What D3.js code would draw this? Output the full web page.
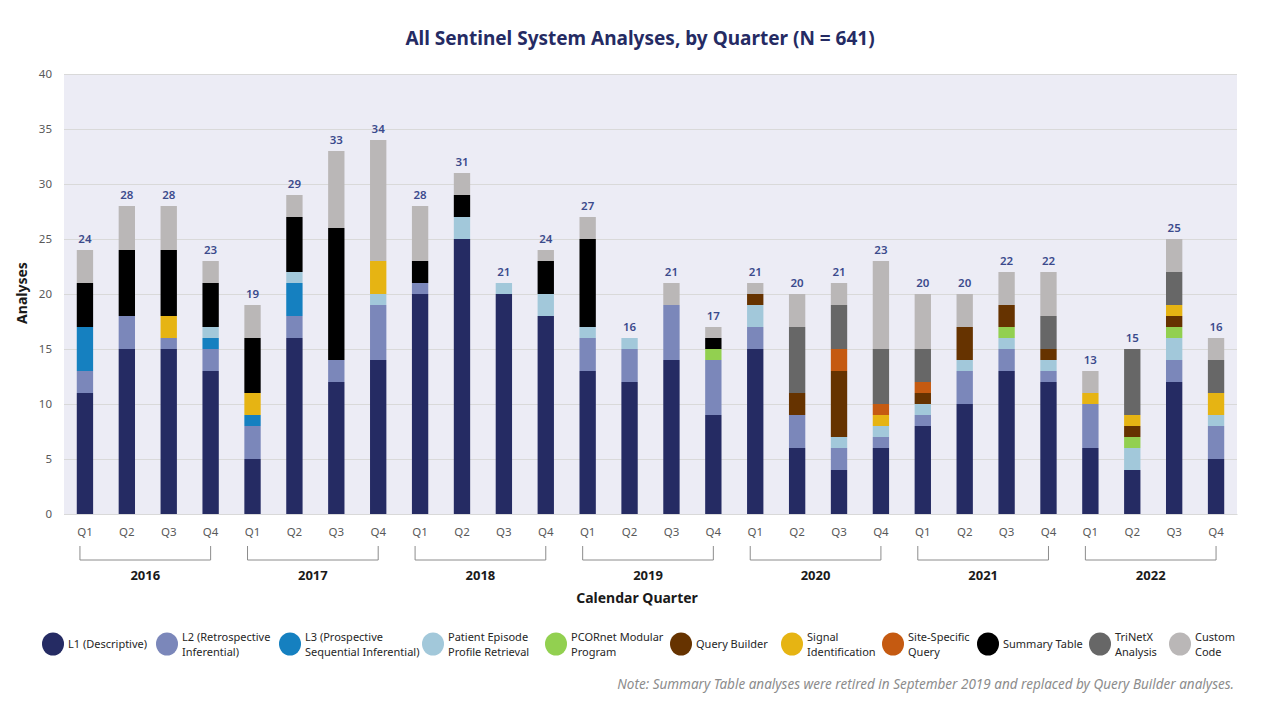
<!DOCTYPE html>
<html>
<head>
<meta charset="utf-8">
<script src="https://cdn.jsdelivr.net/npm/d3@7"></script>
<style>
  body { margin: 0; background: #fff; }
  svg text { font-family: "Noto Sans", "Open Sans", sans-serif; }
</style>
</head>
<body>
<div id="chart"></div>
<script>
// data
let years = ["2016", "2017", "2018", "2019", "2020", "2021", "2022"];
let quarters = ["Q1", "Q2", "Q3", "Q4"];

let seriesNames = ["L1 (Descriptive)", "L2 (Retrospective Inferential)", "L3 (Prospective Sequential Inferential)",
  "Patient Episode Profile Retrieval", "PCORnet Modular Program", "Query Builder", "Signal Identification",
  "Site-Specific Query", "Summary Table", "TriNetX Analysis", "Custom Code"];
let legendLines = [["L1 (Descriptive)"], ["L2 (Retrospective", "Inferential)"], ["L3 (Prospective", "Sequential Inferential)"],
  ["Patient Episode", "Profile Retrieval"], ["PCORnet Modular", "Program"], ["Query Builder"], ["Signal", "Identification"],
  ["Site-Specific", "Query"], ["Summary Table"], ["TriNetX", "Analysis"], ["Custom", "Code"]];
let colors = ["#252b63", "#7b87ba", "#1580c0", "#a2c8da", "#92d050", "#663300", "#e6b413", "#c55a11", "#000000", "#676767", "#bab7b7"];

// one value per quarter, 2016 Q1 .. 2022 Q4
let l1 =      [11,15,15,13, 5,16,12,14, 20,25,20,18, 13,12,14, 9, 15, 6, 4, 6,  8,10,13,12,  6, 4,12, 5];
let l2 =      [ 2, 3, 1, 2, 3, 2, 2, 5,  1, 0, 0, 0,  3, 3, 5, 5,  2, 3, 2, 1,  1, 3, 2, 1,  4, 0, 2, 3];
let l3 =      [ 4, 0, 0, 1, 1, 3, 0, 0,  0, 0, 0, 0,  0, 0, 0, 0,  0, 0, 0, 0,  0, 0, 0, 0,  0, 0, 0, 0];
let pepr =    [ 0, 0, 0, 1, 0, 1, 0, 1,  0, 2, 1, 2,  1, 1, 0, 0,  2, 0, 1, 1,  1, 1, 1, 1,  0, 2, 2, 1];
let pcornet = [ 0, 0, 0, 0, 0, 0, 0, 0,  0, 0, 0, 0,  0, 0, 0, 1,  0, 0, 0, 0,  0, 0, 1, 0,  0, 1, 1, 0];
let qb =      [ 0, 0, 0, 0, 0, 0, 0, 0,  0, 0, 0, 0,  0, 0, 0, 0,  1, 2, 6, 0,  1, 3, 2, 1,  0, 1, 1, 0];
let signal =  [ 0, 0, 2, 0, 2, 0, 0, 3,  0, 0, 0, 0,  0, 0, 0, 0,  0, 0, 0, 1,  0, 0, 0, 0,  1, 1, 1, 2];
let ssq =     [ 0, 0, 0, 0, 0, 0, 0, 0,  0, 0, 0, 0,  0, 0, 0, 0,  0, 0, 2, 1,  1, 0, 0, 0,  0, 0, 0, 0];
let summary = [ 4, 6, 6, 4, 5, 5,12, 0,  2, 2, 0, 3,  8, 0, 0, 1,  0, 0, 0, 0,  0, 0, 0, 0,  0, 0, 0, 0];
let trinetx = [ 0, 0, 0, 0, 0, 0, 0, 0,  0, 0, 0, 0,  0, 0, 0, 0,  0, 6, 4, 5,  3, 0, 0, 3,  0, 6, 3, 3];
let custom =  [ 3, 4, 4, 2, 3, 2, 7,11,  5, 2, 0, 1,  2, 0, 2, 1,  1, 3, 2, 8,  5, 3, 3, 4,  2, 0, 3, 2];

let yTicks = [0, 5, 10, 15, 20, 25, 30, 35, 40];

let seriesValues = [l1, l2, l3, pepr, pcornet, qb, signal, ssq, summary, trinetx, custom];

let keys = years.flatMap(y => quarters.map(q => y + " " + q));
let table = keys.map((k, i) => {
  let row = { key: k };
  seriesNames.forEach((s, j) => row[s] = seriesValues[j][i]);
  row.total = d3.sum(seriesValues, v => v[i]);
  return row;
});

let width = 1280, height = 720;
let plotLeft = 64, plotRight = 1237, plotTop = 74, plotBottom = 514;

let svg = d3.select("#chart").append("svg").attr("width", width).attr("height", height);

svg.append("text")
  .attr("x", 640).attr("y", 45)
  .attr("text-anchor", "middle")
  .attr("font-size", 19).attr("font-weight", "bold")
  .attr("fill", "#252b63")
  .text("All Sentinel System Analyses, by Quarter (N = 641)");

let xScale = d3.scaleBand().domain(keys).range([plotLeft, plotRight]).paddingInner(0.61).paddingOuter(0.305);
let yScale = d3.scaleLinear().domain([0, 40]).range([plotBottom, plotTop]);

svg.append("rect")
  .attr("x", plotLeft).attr("y", plotTop)
  .attr("width", plotRight - plotLeft).attr("height", plotBottom - plotTop)
  .attr("fill", "#ececf5");

let yAxis = d3.axisLeft(yScale).tickValues(yTicks).tickSize(-(plotRight - plotLeft)).tickPadding(12);
let yG = svg.append("g").attr("transform", `translate(${plotLeft},0)`).call(yAxis);
yG.select(".domain").remove();
yG.selectAll("line").attr("stroke", "#d9d9d9").attr("stroke-width", 1.2);
yG.selectAll("text").attr("fill", "#595959").attr("font-size", 11.5);

let stack = d3.stack().keys(seriesNames);
let stacked = stack(table);

svg.append("g").selectAll("g")
  .data(stacked)
  .enter().append("g")
  .attr("fill", (d, i) => colors[i])
  .selectAll("rect")
  .data(d => d)
  .enter().append("rect")
  .attr("x", d => xScale(d.data.key))
  .attr("y", d => yScale(d[1]))
  .attr("width", xScale.bandwidth())
  .attr("height", d => yScale(d[0]) - yScale(d[1]));

svg.append("g").selectAll("text")
  .data(table)
  .enter().append("text")
  .attr("x", d => xScale(d.key) + xScale.bandwidth() / 2)
  .attr("y", d => yScale(d.total) - 7)
  .attr("text-anchor", "middle")
  .attr("font-size", 11.5).attr("font-weight", 600)
  .attr("fill", "#3b4a8c")
  .text(d => d.total);

// quarter labels
let xAxis = d3.axisBottom(xScale).tickSize(0).tickPadding(14).tickFormat(d => d.split(" ")[1]);
let xG = svg.append("g").attr("transform", `translate(0,${plotBottom})`).call(xAxis);
xG.select(".domain").attr("stroke", "#d9d9d9").attr("stroke-width", 1.2);
xG.selectAll("text").attr("fill", "#595959").attr("font-size", 11.5);

// year brackets
let half = xScale.bandwidth() / 2;
years.forEach(y => {
  let x0 = xScale(y + " Q1") + half - 5;
  let x1 = xScale(y + " Q4") + half;
  svg.append("path")
    .attr("d", `M${x0},546V560H${x1}V546`)
    .attr("fill", "none").attr("stroke", "#8c8c8c").attr("stroke-width", 1);
  svg.append("text")
    .attr("x", (x0 + x1) / 2).attr("y", 580)
    .attr("text-anchor", "middle")
    .attr("font-size", 13).attr("font-weight", "bold").attr("fill", "#1a1a1a")
    .text(y);
});

svg.append("text")
  .attr("x", 637).attr("y", 603)
  .attr("text-anchor", "middle")
  .attr("font-size", 14).attr("font-weight", "bold").attr("fill", "#1a1a1a")
  .text("Calendar Quarter");

svg.append("text")
  .attr("transform", "translate(27,293) rotate(-90)")
  .attr("text-anchor", "middle")
  .attr("font-size", 14).attr("font-weight", "bold").attr("fill", "#1a1a1a")
  .text("Analyses");

// legend
let legendX = [53, 167, 290, 433, 556, 681, 792, 893, 988, 1100, 1180];
let legend = svg.append("g").selectAll("g")
  .data(seriesNames)
  .enter().append("g")
  .attr("transform", (d, i) => `translate(${legendX[i]},644)`);
legend.append("ellipse").attr("rx", 11).attr("ry", 11.5).attr("fill", (d, i) => colors[i]);
legend.each(function (d, i) {
  let lines = legendLines[i];
  let t = d3.select(this).append("text")
    .attr("x", 15)
    .attr("font-size", 11).attr("fill", "#262626");
  lines.forEach((ln, j) => {
    t.append("tspan")
      .attr("x", 15)
      .attr("y", lines.length == 1 ? 4 : (j == 0 ? -3 : 12))
      .text(ln);
  });
});

svg.append("text")
  .attr("x", 1234).attr("y", 689)
  .attr("text-anchor", "end")
  .attr("font-size", 13.5).attr("font-style", "italic").attr("fill", "#8c8c8c")
  .text("Note: Summary Table analyses were retired in September 2019 and replaced by Query Builder analyses.");
</script>
</body>
</html>
